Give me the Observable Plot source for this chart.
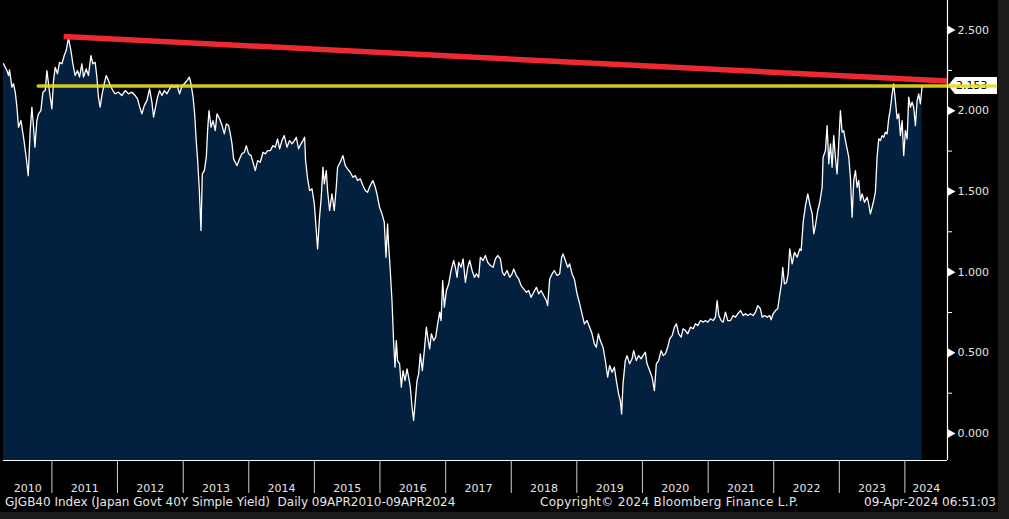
<!DOCTYPE html>
<html>
<head>
<meta charset="utf-8">
<script src="https://cdn.jsdelivr.net/npm/d3@7"></script>
<script src="https://cdn.jsdelivr.net/npm/@observablehq/plot@0.6"></script>
<style>
  html, body { margin: 0; padding: 0; background: #1c1c1c; }
  #frame { width: 998px; height: 512px; background: #000; position: relative; overflow: hidden; }
  #footer { position: absolute; left: 0; top: 495px; width: 998px; height: 17px; font: 12px "DejaVu Sans", sans-serif; color: #e6e6e6; }
  #footer span { position: absolute; top: 0px; white-space: nowrap; }
</style>
</head>
<body>
<div id="frame">
  <div id="chart"></div>
  <div id="footer">
    <span style="left:5px">GJGB40 Index (Japan Govt 40Y Simple Yield)&nbsp; Daily 09APR2010-09APR2024</span>
    <span style="left:540px; letter-spacing:0.3px">Copyright© 2024 Bloomberg Finance L.P.</span>
    <span style="right:2px">09-Apr-2024 06:51:03</span>
  </div>
</div>
<script>
// ---- data (decimal year, yield %) ----
const years = [
2010.262,2010.314,2010.339,2010.354,2010.390,2010.415,2010.441,2010.467,2010.491,2010.528,2010.567,2010.608,2010.639,2010.669,2010.695,2010.720,2010.741,2010.771,2010.796,2010.832,2010.863,2010.898,2010.924,2010.964,
2011.000,2011.025,2011.050,2011.085,2011.116,2011.153,2011.188,2011.218,2011.253,2011.290,2011.320,2011.355,2011.390,2011.421,2011.457,2011.482,2011.523,2011.558,2011.595,2011.625,2011.660,2011.686,2011.710,2011.736,2011.762,2011.797,2011.828,2011.863,2011.889,2011.930,2011.965,
2012.015,2012.067,2012.118,2012.168,2012.220,2012.270,2012.305,2012.346,2012.372,2012.407,2012.448,2012.488,2012.524,2012.549,2012.579,2012.610,2012.640,2012.677,2012.712,2012.753,2012.793,2012.829,2012.864,2012.906,2012.945,2012.982,
2013.017,2013.058,2013.093,2013.119,2013.150,2013.174,2013.195,2013.220,2013.246,2013.271,2013.291,2013.322,2013.352,2013.372,2013.393,2013.424,2013.454,2013.489,2013.515,2013.555,2013.592,2013.627,2013.657,2013.692,2013.718,2013.744,2013.768,2013.820,2013.860,2013.896,2013.932,2013.962,2013.997,
2014.034,2014.064,2014.099,2014.134,2014.175,2014.217,2014.252,2014.287,2014.328,2014.369,2014.404,2014.439,2014.470,2014.506,2014.541,2014.582,2014.622,2014.659,2014.694,2014.724,2014.759,2014.796,2014.826,2014.851,2014.866,2014.897,2014.927,2014.964,2014.999,
2015.029,2015.049,2015.079,2015.105,2015.131,2015.151,2015.182,2015.201,2015.232,2015.268,2015.303,2015.334,2015.354,2015.395,2015.436,2015.471,2015.506,2015.547,2015.588,2015.624,2015.659,2015.700,2015.741,2015.776,2015.811,2015.852,2015.893,2015.929,2015.954,2015.994,
2016.031,2016.066,2016.092,2016.116,2016.131,2016.157,2016.183,2016.207,2016.229,2016.249,2016.268,2016.299,2016.325,2016.351,2016.381,2016.412,2016.436,2016.462,2016.488,2016.512,2016.538,2016.564,2016.589,2016.614,2016.645,2016.675,2016.706,2016.726,2016.756,2016.782,2016.817,2016.848,2016.878,2016.909,2016.930,2016.954,2016.980,
2017.011,2017.046,2017.082,2017.122,2017.148,2017.174,2017.198,2017.235,2017.265,2017.300,2017.336,2017.366,2017.403,2017.438,2017.468,2017.503,2017.529,2017.570,2017.605,2017.640,2017.682,2017.723,2017.758,2017.793,2017.834,2017.865,2017.895,2017.936,2017.976,
2018.012,2018.037,2018.078,2018.113,2018.150,2018.189,2018.230,2018.265,2018.302,2018.342,2018.383,2018.418,2018.454,2018.494,2018.535,2018.555,2018.586,2018.622,2018.657,2018.698,2018.738,2018.768,2018.790,2018.825,2018.860,2018.890,2018.927,2018.962,
2019.003,2019.043,2019.079,2019.115,2019.156,2019.195,2019.232,2019.267,2019.297,2019.328,2019.358,2019.399,2019.435,2019.470,2019.500,2019.537,2019.572,2019.602,2019.637,2019.663,2019.683,2019.704,2019.739,2019.765,2019.805,2019.842,2019.866,2019.907,2019.942,2019.979,
2020.009,2020.044,2020.070,2020.110,2020.147,2020.182,2020.212,2020.247,2020.284,2020.315,2020.350,2020.385,2020.415,2020.452,2020.487,2020.518,2020.552,2020.589,2020.619,2020.654,2020.690,2020.730,2020.772,2020.807,2020.842,2020.883,2020.924,2020.959,2020.994,
2021.035,2021.076,2021.111,2021.137,2021.162,2021.198,2021.229,2021.264,2021.299,2021.340,2021.381,2021.416,2021.451,2021.493,2021.534,2021.569,2021.604,2021.645,2021.686,2021.721,2021.756,2021.797,2021.823,2021.858,2021.899,2021.939,2021.960,2021.991,
2022.026,2022.061,2022.092,2022.118,2022.137,2022.163,2022.194,2022.220,2022.244,2022.281,2022.316,2022.357,2022.397,2022.418,2022.449,2022.484,2022.519,2022.549,2022.586,2022.610,2022.636,2022.671,2022.702,2022.738,2022.753,2022.788,2022.814,2022.839,2022.865,2022.890,2022.915,2022.940,2022.966,2022.991,
2023.017,2023.043,2023.067,2023.093,2023.119,2023.144,2023.169,2023.195,2023.220,2023.246,2023.271,2023.296,2023.322,2023.348,2023.383,2023.424,2023.448,2023.474,2023.500,2023.525,2023.550,2023.576,2023.601,2023.627,2023.652,2023.677,2023.703,2023.729,2023.753,2023.779,2023.805,2023.829,2023.855,2023.881,2023.906,2023.932,2023.958,2023.982,
2024.008,2024.034,2024.058,2024.084,2024.110,2024.134,2024.160,2024.186,2024.210,2024.236,2024.262
];
const yields = [
2.291,2.249,2.218,2.253,2.146,2.167,2.115,2.022,1.898,1.939,1.836,1.712,1.598,1.877,2.022,1.898,1.774,1.939,1.981,2.001,2.115,2.125,2.249,2.115,
2.012,2.187,2.269,2.229,2.300,2.291,2.342,2.373,2.450,2.373,2.291,2.218,2.249,2.208,2.291,2.208,2.259,2.218,2.342,2.291,2.300,2.208,2.084,2.022,2.094,2.167,2.218,2.187,2.156,2.125,2.105,
2.115,2.094,2.125,2.105,2.115,2.094,2.074,2.012,1.981,2.032,2.063,2.136,2.053,1.960,2.022,2.084,2.125,2.094,2.125,2.105,2.136,2.156,2.146,2.156,2.105,2.156,
2.167,2.187,2.208,2.167,2.084,1.981,1.836,1.691,1.506,1.258,1.609,1.629,1.712,1.877,2.001,1.898,1.939,1.877,1.981,1.950,1.908,1.857,1.919,1.908,1.857,1.795,1.702,1.660,1.702,1.733,1.743,1.784,1.733,
1.722,1.681,1.629,1.691,1.681,1.743,1.733,1.753,1.753,1.784,1.774,1.826,1.764,1.815,1.846,1.774,1.815,1.795,1.815,1.836,1.764,1.795,1.815,1.836,1.691,1.578,1.506,1.516,1.423,
1.258,1.144,1.340,1.464,1.650,1.547,1.629,1.506,1.382,1.485,1.382,1.526,1.650,1.681,1.722,1.660,1.640,1.619,1.588,1.598,1.568,1.578,1.537,1.506,1.495,1.537,1.568,1.526,1.485,1.402,
1.361,1.309,1.092,1.299,1.175,1.010,0.824,0.576,0.411,0.576,0.452,0.432,0.287,0.390,0.328,0.401,0.349,0.287,0.163,0.081,0.204,0.328,0.370,0.494,0.390,0.514,0.659,0.597,0.524,0.618,0.576,0.597,0.680,0.752,0.700,0.948,0.783,
0.886,0.927,1.010,1.072,1.030,0.968,1.061,1.030,1.082,0.937,1.030,1.072,1.010,0.968,0.989,0.968,1.092,1.072,1.103,1.061,1.041,1.030,1.082,1.103,1.082,0.999,0.979,1.010,0.968,
0.989,1.020,0.979,0.958,0.917,0.896,0.875,0.886,0.844,0.875,0.906,0.866,0.886,0.855,0.824,0.793,0.958,0.989,1.010,0.979,0.989,1.092,1.113,1.072,1.030,1.051,0.989,0.958,
0.866,0.804,0.742,0.680,0.700,0.659,0.618,0.556,0.535,0.618,0.576,0.535,0.452,0.349,0.421,0.380,0.411,0.328,0.246,0.204,0.122,0.308,0.452,0.483,0.432,0.463,0.514,0.452,0.483,0.463,
0.483,0.504,0.432,0.390,0.349,0.266,0.432,0.452,0.514,0.483,0.494,0.535,0.587,0.607,0.659,0.680,0.618,0.597,0.649,0.638,0.618,0.659,0.649,0.680,0.669,0.700,0.690,0.700,0.690,
0.711,0.700,0.721,0.824,0.731,0.700,0.690,0.752,0.700,0.700,0.731,0.721,0.742,0.762,0.731,0.742,0.731,0.742,0.731,0.752,0.793,0.773,0.721,0.731,0.721,0.731,0.704,0.742,
0.762,0.773,0.860,0.930,1.030,0.927,0.935,0.989,1.144,1.051,1.123,1.092,1.144,1.134,1.309,1.413,1.485,1.423,1.361,1.237,1.289,1.382,1.433,1.526,1.712,1.753,1.908,1.671,1.795,1.650,1.846,1.712,1.609,1.795,
2.001,1.867,1.877,1.815,1.764,1.712,1.588,1.340,1.568,1.629,1.526,1.568,1.444,1.485,1.433,1.464,1.423,1.361,1.402,1.444,1.495,1.712,1.826,1.815,1.846,1.836,1.867,1.857,1.950,2.012,2.105,2.167,2.063,1.950,1.981,1.846,1.939,1.722,
1.877,1.826,2.084,2.022,2.053,2.022,1.908,2.063,2.105,2.043,2.153
];
// red resistance trend line (endpoints) and yellow horizontal level
const trendYears = [2011.18, 2024.648];
const trendValues = [2.46, 2.184];
const levelYears = [2010.79, 2025.38];
const levelValue = 2.153;
const lastLabel = "2.153";
// axes
const xDomainYears = [2010.262, 2024.648];
const yDomain = [-0.167, 2.683];
const majorTicks = [0, 0.5, 1.0, 1.5, 2.0, 2.5];
const minorTicks = [0.25, 0.75, 1.25, 1.75, 2.25];
const yearLabels = [2010,2011,2012,2013,2014,2015,2016,2017,2018,2019,2020,2021,2022,2023,2024];

// ---- helpers ----
function toDate(t) {
  const y = Math.floor(t);
  const a = Date.UTC(y, 0, 1), b = Date.UTC(y + 1, 0, 1);
  return new Date(a + (t - y) * (b - a));
}
const data = years.map((t, i) => ({date: toDate(t), value: yields[i]}));
const xDomain = xDomainYears.map(toDate);
const trend = trendYears.map((t, i) => ({date: toDate(t), value: trendValues[i]}));
const level = levelYears.map(t => ({date: toDate(t), value: levelValue}));
const yearStarts = yearLabels.slice(1).map(y => new Date(Date.UTC(y, 0, 1)));
const labelPos = yearLabels.map(y => {
  const a = Math.max(Date.UTC(y, 0, 1), +xDomain[0]);
  const b = Math.min(Date.UTC(y + 1, 0, 1), +xDomain[1]);
  return new Date((a + b) / 2);
});

const navy = "#04203f";
const textColor = "#e4e4e4";

function valueLabel(index, scales, values, dimensions) {
  const y = scales.y(levelValue);
  const x0 = dimensions.width - dimensions.marginRight;
  const g = d3.create("svg:g");
  g.append("path")
    .attr("d", `M${x0 + 1},${y} L${x0 + 8},${y - 8.5} L${x0 + 50},${y - 8.5} L${x0 + 50},${y + 8.5} L${x0 + 8},${y + 8.5} Z`)
    .attr("fill", "#ffffff");
  g.append("text")
    .attr("x", x0 + 9).attr("y", y).attr("dy", "0.35em")
    .attr("text-anchor", "start")
    .attr("fill", "#000000").attr("font-size", 11).attr("font-family", "DejaVu Sans")
    .text(lastLabel);
  return g.node();
}

const plot = Plot.plot({
  width: 998,
  height: 495,
  marginLeft: 3,
  marginRight: 51,
  marginTop: 0,
  marginBottom: 35,
  style: {background: "#000", color: textColor, fontFamily: "DejaVu Sans", fontSize: "11px", overflow: "visible"},
  x: {type: "utc", domain: xDomain, label: null},
  y: {domain: yDomain, label: null},
  marks: [
    Plot.areaY(data, {x: "date", y1: yDomain[0], y2: "value", fill: navy}),
    Plot.lineY(data, {x: "date", y: "value", stroke: "#ffffff", strokeWidth: 1.3}),
    Plot.line(trend, {x: "date", y: "value", stroke: "#ec2a2f", strokeWidth: 5.5, strokeLinecap: "butt"}),
    valueLabel,
    Plot.line(level, {x: "date", y: "value", stroke: "#e6de1e", strokeWidth: 3.5, strokeOpacity: 0.9}),
    Plot.ruleX([xDomain[1]], {stroke: "#ffffff", strokeWidth: 1.2}),
    Plot.ruleY([yDomain[0]], {stroke: "#ffffff", strokeWidth: 1.2}),
    Plot.axisY({anchor: "right", ticks: minorTicks, tickSize: 4, tickFormat: () => "", stroke: "#ffffff", label: null}),
    Plot.axisY({anchor: "right", ticks: majorTicks, tickSize: 0, tickPadding: 10, tickFormat: d3.format(".3f"), fill: textColor, fontSize: 11, label: null}),
    Plot.dot(majorTicks, {y: d => d, frameAnchor: "right", symbol: "triangle", r: 3.2, rotate: 90, dx: 3, fill: "#ffffff", stroke: null}),
    Plot.axisX({ticks: yearStarts, tickSize: 33, tickFormat: () => "", stroke: "#cfcfcf", label: null}),
    Plot.axisX({ticks: labelPos, tickSize: 0, tickPadding: 24, tickFormat: d => String(d.getUTCFullYear()), fill: textColor, fontSize: 11, label: null})
  ]
});
document.getElementById("chart").appendChild(plot);
</script>
</body>
</html>
